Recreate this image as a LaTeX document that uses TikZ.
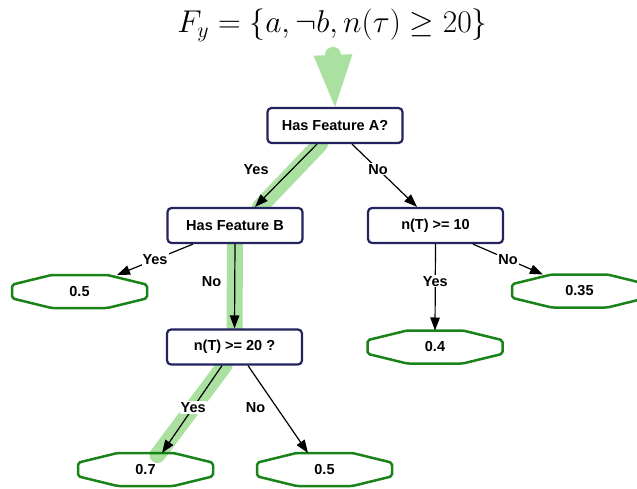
\documentclass[tikz,border=0pt]{standalone}
\usepackage{amsmath,amssymb}
\usepackage{fontspec}
\setsansfont{Liberation Sans}
\usepackage{xcolor}
\usepackage{tikz}
\usetikzlibrary{positioning,arrows.meta,calc,backgrounds}
\definecolor{decblue}{RGB}{35,35,95}
\definecolor{leafgreen}{RGB}{25,130,25}
\definecolor{pathgreen}{RGB}{170,224,160}

\begin{document}
\begin{tikzpicture}[
  x=1pt, y=-1pt,
  font=\sffamily\bfseries\fontsize{14.5}{17}\selectfont,
  dec/.style={draw=decblue, line width=2.2pt, rounded corners=4pt, fill=white,
              minimum width=135pt, minimum height=35pt, inner sep=0pt},
  leaf/.style={minimum width=135pt, minimum height=33pt, inner sep=0pt,
               outer sep=0pt},
  leafline/.style={draw=leafgreen, line width=2.5pt, line join=round,
                   rounded corners=2pt},
  lbl/.style={inner sep=1pt},
  onl/.style={lbl, fill=white},
  arr/.style={-{Triangle[length=13pt,width=9.5pt]}, line width=1.2pt},
  hl/.style={draw=pathgreen, line width=16pt, line cap=round},
]
\useasboundingbox (0,0) rectangle (637,489);
% ---- query ------------------------------------------------------------
\node[font=\huge, scale=1.52, inner sep=0pt] (query) at (332.5,25.5)
  {$F_y = \{a, \neg b, n(\tau) \geq 20\}$};
% ---- decision nodes ---------------------------------------------------
\node[dec] (hasA)  at (335,125.5) {Has Feature A?};
\node[dec] (hasB)  at (235,225.5) {Has Feature B};
\node[dec] (nT10)  at (435.5,225.5) {n(T) >= 10};
\node[dec] (nT20)  at (234.5,347) {n(T) >= 20 ?};
% ---- leaves (octagon outlines) ------------------------------------------
\node[leaf] (leafB)   at (79.5,291.5) {0.5};
\node[leaf] (leafN10) at (579.5,291) {0.35};
\node[leaf] (leafY10) at (435,347) {0.4};
\node[leaf] (leafY20) at (145.5,469.5) {0.7};
\node[leaf] (leafN20) at (324.5,469.5) {0.5};
\foreach \n in {leafB,leafN10,leafY10,leafY20,leafN20}
  \draw[leafline] ($(\n.north west)!0.293!(\n.north east)$)
    -- ($(\n.north west)!0.707!(\n.north east)$)
    -- ($(\n.north east)!0.293!(\n.south east)$)
    -- ($(\n.north east)!0.707!(\n.south east)$)
    -- ($(\n.south east)!0.293!(\n.south west)$)
    -- ($(\n.south east)!0.707!(\n.south west)$)
    -- ($(\n.south west)!0.293!(\n.north west)$)
    -- ($(\n.south west)!0.707!(\n.north west)$) -- cycle;
% ---- highlighted path ---------------------------------------------------
\begin{scope}[on background layer]
\draw[hl, shorten <=13pt,
  -{Triangle[width=39pt,length=52pt,line width=0pt]}] (query.south) -- (hasA.north);
\draw[hl] ([xshift=-15pt]hasA.south) -- ([xshift=25pt]hasB.north);
\draw[hl] (hasB.south) -- (nT20.north);
\draw[hl] ([xshift=-10pt]nT20.south) -- ([xshift=12pt,yshift=-2pt]leafY20.north);
\end{scope}
% ---- edges ------------------------------------------------------------
\draw[arr] ([xshift=-18pt]hasA.south) -- node[lbl, pos=0.4, left=22pt]{Yes}
  ([xshift=20pt]hasB.north);
\draw[arr] ([xshift=17pt]hasA.south) -- node[onl, pos=0.4]{No}
  ([xshift=-18.5pt]nT10.north);
\draw[arr] ([xshift=-42pt]hasB.south) -- node[onl]{Yes}
  ([xshift=37.5pt]leafB.north);
\draw[arr] (hasB.south) -- node[lbl, pos=0.45, left=12pt]{No} (nT20.north);
\draw[arr] (nT10.south) -- node[onl, pos=0.43]{Yes} (leafY10.north);
\draw[arr] ([xshift=37.5pt]nT10.south) -- node[onl]{No}
  ([xshift=-36.5pt]leafN10.north);
\draw[arr] ([xshift=-12.5pt]nT20.south) -- node[onl, pos=0.48]{Yes}
  ([xshift=16.5pt]leafY20.north);
\draw[arr] ([xshift=13.5pt]nT20.south) -- node[lbl, pos=0.48, left=10pt]{No}
  ([xshift=-16.5pt]leafN20.north);
\end{tikzpicture}
\end{document}
